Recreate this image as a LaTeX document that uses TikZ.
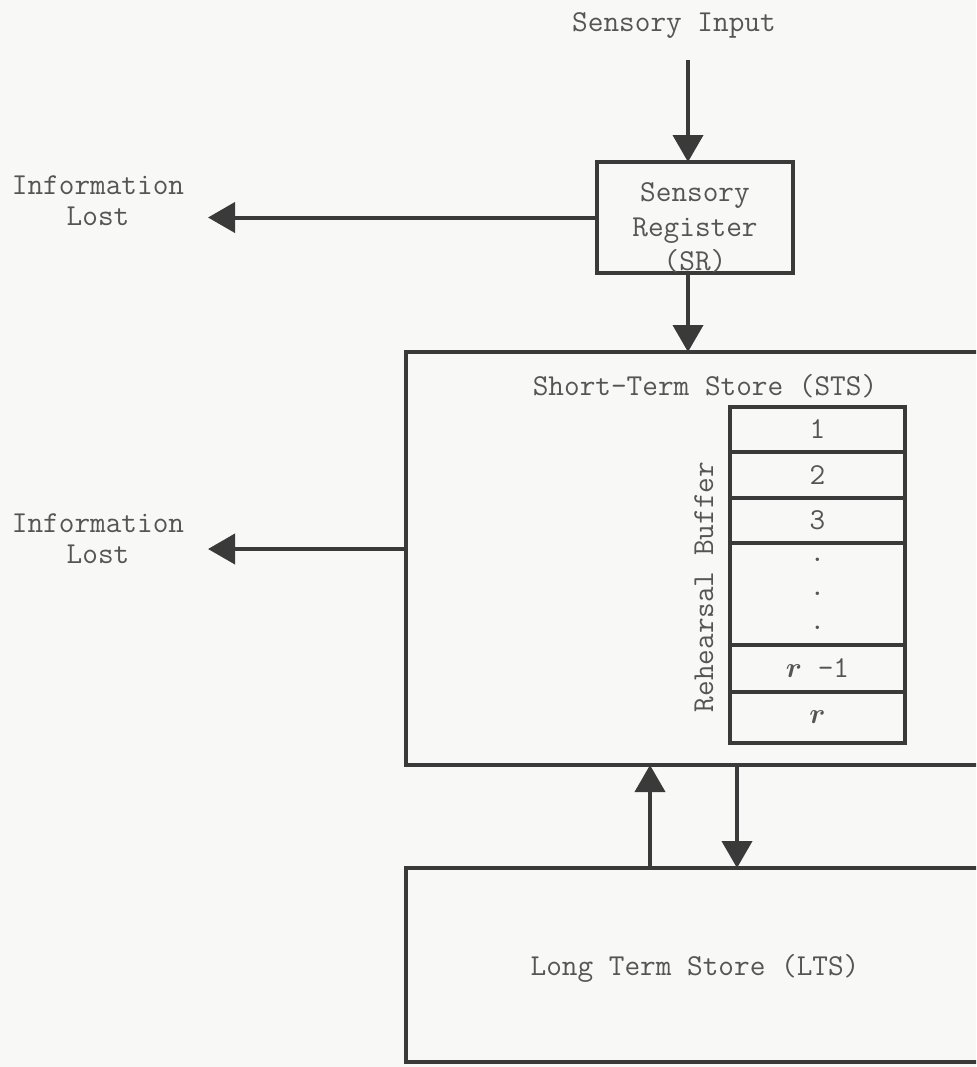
\documentclass[tikz,border=0pt]{standalone}
\usepackage{fontspec}
\usepackage{bm}
\usetikzlibrary{arrows.meta,positioning}

\begin{document}
\begin{tikzpicture}[x=0.5pt, y=-0.5pt, >={Triangle[width=15pt,length=13.5pt]},
    font=\ttfamily\fontsize{15.2}{15.5}\selectfont]
  \definecolor{ink}{HTML}{3A3A3A}
  \definecolor{type}{HTML}{555555}
  \definecolor{paper}{HTML}{F8F8F7}
  \tikzset{
    store/.style={draw=ink, line width=2pt, inner sep=0pt, outer sep=0pt},
    cell/.style={store, minimum width=87.5pt, text=type},
    label/.style={text=type, align=center},
    flow/.style={->, draw=ink, line width=2pt},
  }
  \useasboundingbox[fill=paper] (0,0) rectangle (976,1067);
  \clip (0,0) rectangle (976,1067);

  % boxes
  \node[store, minimum width=98pt, minimum height=55.5pt] (sr) at (695,217.5) {};
  \node[store, minimum width=302pt, minimum height=206.5pt] (sts) at (708,558.5) {};
  \node[store, minimum width=302pt, minimum height=97pt] (lts) at (708,965) {};

  % texts
  \node[label] (input) at (674,25) {Sensory Input};
  \node[label, font=\ttfamily\fontsize{15.2}{17.2}\selectfont] (srtext) at (695,228) {Sensory\\Register\\(SR)};
  \node[label] (ststext) at (705,386) {Short-Term Store (STS)};
  \node[label] (ltstext) at (695,968) {Long Term Store (LTS)};
  \node[label] (lost1) at (98,201) {Information\\Lost};
  \node[label] (lost2) at (98,539) {Information\\Lost};

  % rehearsal buffer
  \node[cell, minimum height=22.5pt] (b1) at (817.5,429.5) {1};
  \node[cell, minimum height=23pt, below=0pt of b1] (b2) {2};
  \node[cell, minimum height=22.5pt, below=0pt of b2] (b3) {3};
  \node[cell, minimum height=51pt, below=0pt of b3, align=center,
        font=\ttfamily\fontsize{15.2}{17}\selectfont] (bdots) {.\\.\\.};
  \node[cell, minimum height=23.5pt, below=0pt of bdots] (brm1) {$\bm{r}$ -1};
  \node[cell, minimum height=25.5pt, below=0pt of brm1] (br) {$\bm{r}$};
  \node[label, rotate=90] (rehearsal) at (704,587) {Rehearsal Buffer};

  % connectors
  \coordinate (col) at (688,60);
  \coordinate (lost1 tip) at (208,217.5);
  \coordinate (lost2 tip) at (208,549);
  \coordinate (recall) at (650,0);
  \coordinate (keep) at (737,0);
  \draw[flow] (col) -- (col |- sr.north);
  \draw[flow] (sr.south -| col) -- (col |- sts.north);
  \draw[flow] (sr.west) -- (lost1 tip);
  \draw[flow] (sts.west |- lost2 tip) -- (lost2 tip);
  \draw[flow] (lts.north -| recall) -- (sts.south -| recall);
  \draw[flow] (sts.south -| keep) -- (lts.north -| keep);
\end{tikzpicture}
\end{document}
